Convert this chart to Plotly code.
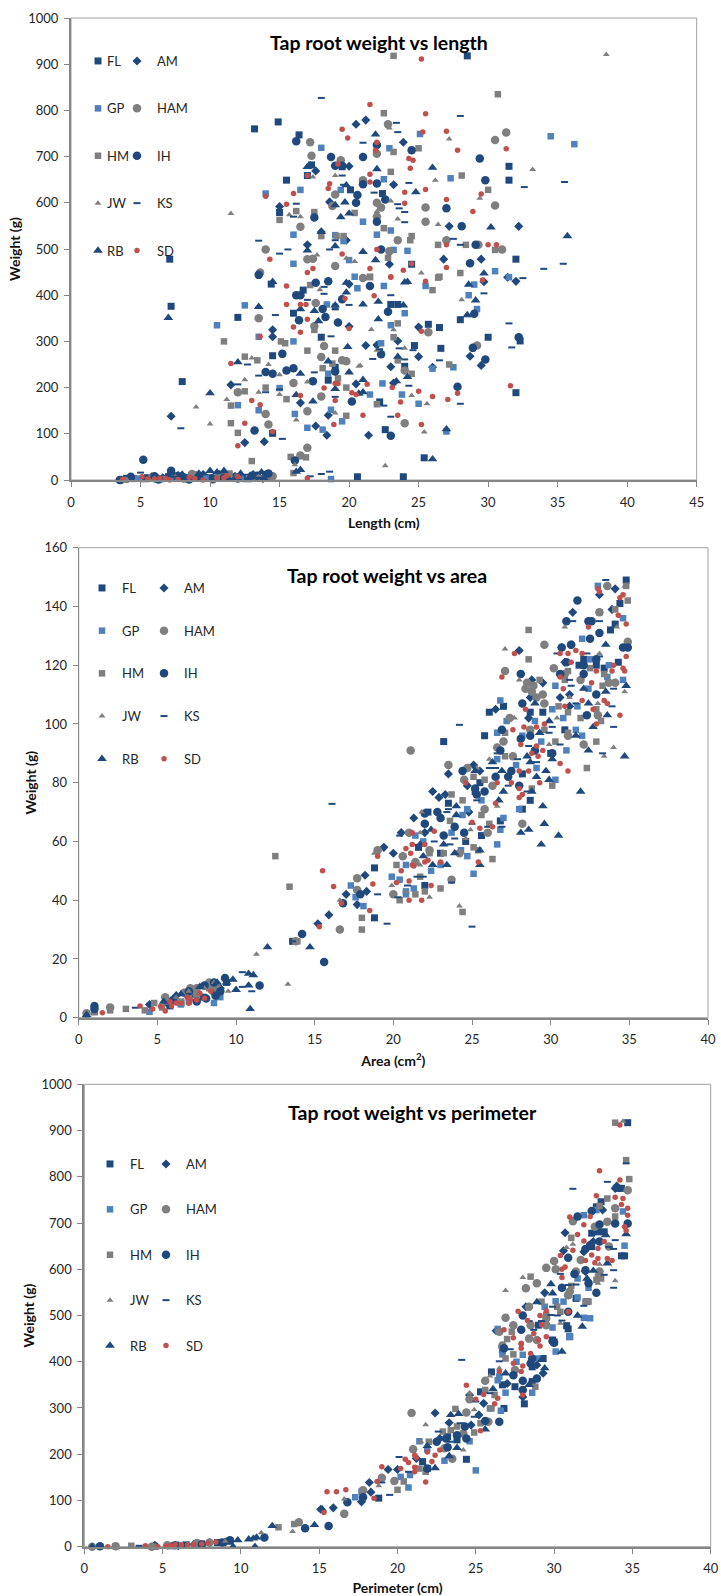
import plotly.graph_objects as go

SERIES = ["FL", "AM", "GP", "HAM", "HM", "IH", "JW", "KS", "RB", "SD"]
FONT = "Lato, Carlito, sans-serif"

# ---------- weight vs length ----------
LEN_FL = [(7.1,478),(7.2,376),(8,213),(12,352),(13.2,760),(14.9,775),(16.4,747),(15.5,649),(15,579),(17,659),(17.3,682),(19.5,678),(20.1,628),(14.5,269),(14.5,101),(14.4,424),(16,361),(16.7,411),(18,309),(18.5,216),(19,244),(20.6,7),(23,380),(23.5,380),(25.7,337),(26.5,330),(28,347),(30,309),(32.3,301),(32,189),(24.7,291),(26.6,285),(24,246),(22.2,169),(22.6,109),(25.4,48),(23.9,7),(28.5,918),(31.5,679),(31.5,649),(32,478),(22.4,620),(24.5,467),(4.5,3),(5.5,5),(6.2,2),(7,7),(7.8,9),(8.5,5),(9.2,7),(10,5),(10.8,8),(11.5,7),(12.5,6),(13.2,8),(14,12),(14.3,8)]
LEN_AM = [(20.5,770),(15,592),(17,509),(18,537),(20,679),(19.8,519),(17.6,669),(18.6,602),(21.2,779),(23.9,731),(23.2,639),(26.8,478),(29.5,478),(27.2,549),(32.2,549),(22.9,467),(7.2,138),(11.5,206),(12.5,81),(13.9,83),(14.5,325),(14.5,310),(16.5,167),(17.6,117),(18.4,97),(18.5,140),(20,332),(20.5,208),(20,424),(21.2,291),(22,292),(23.5,301),(25,331),(25,267),(23,245),(26,244),(28.7,268),(29.5,248),(29.7,429),(32,430),(31.4,439),(21.4,97),(23.2,210),(4.4,5),(5.8,7),(6.6,5),(7.7,10),(8.7,8),(9.5,12),(10.7,12),(11.8,8),(13.1,12),(13.8,3)]
LEN_GP = [(18,719),(19.4,628),(16.5,628),(14,620),(16,531),(16,468),(20,476),(19.6,517),(19,530),(20.4,440),(34.5,744),(36.2,727),(25.1,749),(22.9,718),(27.3,653),(22.5,651),(21,559),(23,540),(22,531),(24.2,496),(23.2,498),(30.5,452),(31.5,439),(10.5,335),(12.5,378),(13.5,310),(16,300),(13.5,151),(12,162),(15,199),(16.1,143),(17,113),(18.1,109),(18.7,152),(19.5,127),(18.7,2),(18.5,230),(18.4,380),(19,375),(20.6,415),(22.5,420),(25.5,420),(29,423),(28.6,400),(29.2,370),(24,361),(23,335),(22.3,296),(27.5,244),(26,241),(22.4,209),(23.8,185),(21.5,185),(25,165),(27,105),(4.8,3),(6.5,2),(7.5,7),(8.5,3),(9.7,3),(11,8),(12.2,5)]
LEN_HAM = [(17.2,731),(17.3,702),(19.4,692),(19,618),(16.5,548),(14,499),(17,478),(17.4,479),(13.6,449),(19,463),(18.8,593),(22.8,770),(31.3,752),(30.5,736),(22,706),(21,649),(25.5,590),(30.5,594),(22.3,590),(22,600),(25.5,559),(23.5,519),(27,519),(29.3,509),(31,499),(22.9,495),(22,570),(13.5,350),(12,190),(14,143),(14.2,120),(17,70),(16.5,53),(16,210),(18,266),(18.2,290),(17.6,383),(17.5,333),(18,181),(17,149),(19.5,259),(19.8,257),(24,237),(25.7,320),(29.2,291),(24,123),(21,437),(3.6,0),(4,2),(6.2,4),(8.7,13),(9,10),(10.2,1),(11.3,8),(12,6),(13.3,5),(14.5,8)]
LEN_HM = [(15,563),(16.2,582),(17.5,580),(18,528),(19.1,528),(19.6,528),(20.4,578),(23.2,918),(30.7,835),(22.5,794),(25,718),(23.2,710),(23,667),(28.1,659),(30,628),(22.5,545),(24.5,528),(24.4,519),(26.4,509),(28.4,509),(30.5,498),(22.8,481),(28,448),(26.4,438),(21.5,439),(11,300),(11.5,161),(11.5,123),(12,102),(12.5,267),(12.5,192),(13,41),(13.4,259),(14,200),(15.1,300),(15.4,296),(15.5,175),(15.8,50),(16,15),(16.9,49),(17,280),(17.2,422),(17.5,325),(18.1,242),(18.8,252),(19,280),(19.2,220),(19.8,200),(19.8,139),(23.5,339),(23.2,309),(23.5,259),(27.2,250),(24.5,230),(22,164),(26,411),(26.5,440),(21.5,440),(5.8,6),(7,3),(8.2,1),(9,6),(10.8,8),(11.4,14),(12.8,4),(14,3)]
LEN_IH = [(16.2,733),(18.7,699),(19,680),(19.5,680),(17.5,568),(20.6,617),(20.5,600),(13.5,444),(24.5,714),(29.4,696),(21,699),(29.8,649),(22,725),(21,640),(22,642),(22.6,607),(27,588),(22,559),(28.1,549),(29.1,509),(22.3,499),(28.7,469),(5.2,44),(13.2,107),(15.2,273),(14,234),(14.5,230),(15.5,237),(16,242),(17.4,214),(19,235),(20.2,170),(16.1,42),(16.4,346),(16.2,400),(16.5,400),(18.1,370),(18.3,353),(18.5,430),(19.2,341),(19.5,391),(17.6,427),(21.5,420),(22.8,364),(29,360),(28.9,286),(22.3,272),(29.8,261),(32.2,309),(27.8,202),(23,96),(3.5,0),(4.3,7),(6,8),(6.3,1),(7.2,20),(7.6,8),(8.1,6),(8.5,1),(9.2,8),(10.2,3),(11,5),(12,3),(13,9),(13.4,9),(14.2,14)]
LEN_JW = [(11.5,577),(17.4,656),(19,659),(15.7,574),(16.5,570),(17.7,487),(19.8,480),(20.4,473),(38.5,921),(22.9,762),(27.2,738),(33.2,672),(26.2,649),(29.4,610),(23,604),(23.5,565),(26.4,553),(22,581),(25.2,448),(9,158),(10,121),(11.2,174),(12.5,217),(13,264),(13.5,190),(14.2,250),(15,185),(15,228),(16.2,130),(16.1,33),(17,212),(19,145),(20.7,246),(17.9,412),(19,370),(21.6,326),(23.2,325),(24,285),(22,281),(24.5,183),(25.6,165),(25.4,104),(28.1,390),(22.6,31),(20.8,248),(4,1),(6,3),(7.5,7),(9,14),(10.5,8),(12.1,6),(13.5,9)]
LEN_KS = [(18,827),(13.5,518),(15,490),(15.6,499),(16.2,598),(16,570),(18.6,499),(19,519),(19.5,659),(19.6,639),(28,788),(23.4,773),(23.5,753),(21,730),(24.3,643),(23.2,640),(32.6,634),(35.5,645),(21.8,622),(23.5,597),(23.6,588),(24,580),(24,558),(27.5,522),(28,509),(34,457),(35.4,468),(32.5,437),(7.9,112),(12,207),(12.7,250),(13.5,226),(14,190),(14.7,357),(15,196),(15.2,89),(17.5,233),(17.2,8),(18,13),(18.6,18),(18.7,311),(18.2,403),(17,390),(19,180),(19,370),(20,379),(18.2,418),(23,400),(22.2,283),(21.7,262),(24,261),(23.6,285),(26.5,259),(29.7,404),(31.5,339),(31.7,287),(24.6,281),(24.3,204),(28,165),(23,137),(22.5,161),(5,16),(4,9),(6.5,4),(7.5,7),(9.5,0),(11.5,2),(13.5,5)]
LEN_RB = [(17.2,682),(17,678),(19.8,638),(19.7,601),(19,595),(19.4,569),(20,577),(18,537),(17,497),(14.5,429),(19,506),(21.9,748),(22,673),(26,676),(24.8,623),(30.2,547),(35.7,528),(21,494),(21.9,476),(29.7,447),(7,351),(10,188),(12,255),(13.5,375),(16.2,184),(16.5,230),(16.5,370),(17.5,366),(17.4,170),(17.8,344),(18.5,257),(19,197),(19.9,288),(20,233),(20.7,187),(16.2,18),(16.5,22),(19.8,427),(19.8,406),(19,378),(21,380),(22.1,386),(22.1,348),(23.9,378),(24,428),(24.2,429),(28.6,423),(29.1,389),(28.5,357),(23.5,267),(21,217),(21,190),(23.4,214),(24.2,223),(27,110),(26,45),(5.3,0),(6.5,1),(7,10),(8,12),(9.2,14),(10,20),(10.5,17),(11,20),(11.3,3),(12.2,14),(12.7,0),(13.7,17),(13.9,3)]
LEN_SD = [(19.5,759),(19.9,740),(19.2,684),(18.6,641),(18.5,631),(17,659),(16,620),(14,614),(15.5,597),(19.5,489),(14.3,478),(17,449),(17.4,458),(25.2,911),(21.5,813),(25.5,793),(25.3,753),(27,755),(27.8,714),(31.3,717),(22,731),(21.9,714),(24.3,696),(24.6,692),(24.4,675),(21.5,662),(21.5,645),(24,623),(25.5,629),(27,607),(24,599),(29.5,619),(28.9,581),(27,509),(30,509),(30.6,509),(22,499),(24.5,468),(27,460),(23.9,454),(21.5,458),(23,439),(11.5,252),(13,172),(13.6,163),(12.5,123),(12,74),(14.5,105),(13.6,310),(15.5,420),(15.5,380),(16,331),(16.5,380),(16.9,380),(17,348),(16.5,320),(16.5,183),(18.2,199),(19,209),(19.2,209),(19,172),(18.9,120),(20,328),(19.7,393),(17,4),(20.2,189),(20.5,185),(21.8,399),(21,140),(23,440),(25.5,430),(29.6,433),(21.3,207),(23.1,200),(25.2,322),(25,192),(26,181),(23.7,169),(27.1,174),(27.8,188),(31.6,204),(23.5,140),(25.2,120),(3.7,1),(5.1,7),(5.5,2),(6,2),(6.4,4),(6.8,3),(7.1,0),(7.7,1),(8.5,6),(8.9,3),(9.5,0),(10.5,4),(11,5),(11.2,9),(12,7)]

# ---------- weight vs area ----------
AREA_FL = [(34.8,149),(34.4,141),(33.8,132),(34.1,134),(31.8,120),(32.9,120),(34.3,121),(33.4,119),(27,106),(26.1,104),(25.8,96),(23.2,94),(28.7,104),(29.5,104),(30.9,98),(30,90),(28.2,83),(25.5,80),(25.2,77),(28.7,74),(23.5,73),(22.2,70),(32.1,122),(18.8,51),(18.8,34),(22,45),(25.6,62),(23,56),(21.6,58),(24.6,60),(28.2,71),(26.8,67),(13.6,26),(5.8,4),(6.5,5),(7.2,8),(7.9,7),(8.6,9),(9.4,12),(1,2)]
AREA_AM = [(34.1,146),(33.1,144),(33.9,139),(31.4,138),(28,125),(30.7,126),(26.5,105),(28.8,115),(29.5,114),(28.7,109),(30.6,109),(31.2,110),(25.1,86),(25.5,84),(23.5,83),(24.7,79),(22.5,77),(22.9,75),(23.3,76),(28.6,102),(30.9,121),(31.2,106),(21.3,68),(20.5,63),(22,63),(19.4,58),(20,56),(18.2,48.5),(18.3,43),(24.8,70),(17,42),(15.9,35),(15.2,32),(17.7,38.5),(4.5,4.5),(5.6,5),(6.2,7.5),(6.8,8),(7.5,10),(8.3,11),(9,10)]
AREA_GP = [(33,147),(34.6,136),(32,129),(26.8,108),(27.2,101),(26.6,97),(28.2,96),(32,96),(31.6,98),(31,91),(29.4,94),(26.6,88),(27.8,86),(29.1,85),(30.3,81),(25.6,74),(28,71),(24.7,71),(34.6,115),(33.7,120),(32.5,122),(32.4,112),(33.6,116),(31.7,106),(30.1,105),(30.8,102),(29,101),(30.3,113),(24.4,69),(23.7,63),(21.9,60),(21.4,62),(27,68),(26.8,64),(26.6,59),(24.7,55),(24.3,57),(22.4,50),(23,52),(20.8,52),(20.4,47),(19.9,48),(20.8,43),(21.3,44),(20.8,42),(25.1,49),(18.1,38),(17.3,45),(17.6,41),(4.5,2),(6.5,4.5),(7,5.5),(8.6,5),(9,7)]
AREA_HAM = [(33.6,147),(33.1,138),(34.9,128),(29.6,127),(31.3,127),(27.1,118),(30.2,119),(30.9,117),(31.9,115),(28.5,114),(28.9,113),(28.4,112),(28.8,111),(29.1,109),(29.5,110),(29.6,107),(34.1,114),(33.7,114),(33,103),(27.4,102),(28.7,98),(31.1,96),(26.6,92),(27,94),(32.1,93),(27.6,89),(23.5,86),(24.7,85),(24.5,81),(26.3,79),(25.8,71),(21.1,91),(21,63),(19,57),(20.6,55),(21.4,53),(22.3,57),(24.2,56),(26,63),(28.2,66),(23.7,47),(20,42),(17.7,47.5),(17.7,43.5),(16.6,30),(13.8,26),(0.5,1.5),(2,3.5),(5.5,7),(6.7,8.5),(7.1,10),(7.5,10),(8.3,12),(8.8,10),(7.5,8)]
AREA_HM = [(34.8,147),(34.9,142),(34.1,139),(33.1,138),(28.6,132),(28.6,122),(32.5,119),(31.1,118),(33.4,117),(33.3,113),(30.9,115),(29.3,115),(30.5,106),(31.1,104),(32.9,105),(31.9,102),(33.2,101),(29.6,98),(28.7,98),(27.1,97),(31.1,97),(30.3,94),(32.9,94),(27.1,89),(25.1,82),(25.8,81),(28.8,78),(30.1,79),(23.7,76),(24.4,74),(32.3,85),(26.1,66),(25.6,69),(23.6,67),(23.2,56),(22.3,56),(20.2,52),(25.1,58),(25.4,57),(26.3,54),(22,43),(21.4,42),(23,44),(20.4,40),(24.4,36),(18,34),(18,30),(21.7,48),(12.5,55),(13.4,44.6),(13.9,26),(0.5,1),(1,2),(2,2.5),(3,3),(4.2,2.5),(4.8,5),(5.3,3.5),(6.5,5.5),(7,7),(8.3,10),(8.5,11)]
AREA_IH = [(31.7,142),(31,135),(32.4,135),(32.6,135),(33.1,131),(34.9,126),(34.6,126),(32.5,129),(31.3,127),(30.7,126),(32.9,122),(31,121),(32.1,120),(30.6,117),(32.1,117),(28.1,117),(28.2,107),(32.9,110),(32.3,103),(26.9,98),(28.7,96),(28.1,95),(30.1,90),(29,91),(26.8,91),(27.5,84),(27.3,82),(24.4,84),(26.5,82),(25.2,78),(25.3,76),(25.8,77),(28,79),(22.8,70),(22,66),(22,69.5),(23,68),(23.9,65),(24.5,63),(23.2,62),(17.9,42),(14.2,28.5),(15.6,19),(16.8,39),(11.5,11),(1,4),(1,3),(6,6),(7.5,5.5),(8.1,6.5),(8.7,7.5),(9,9),(9.3,13.5),(8.6,12),(8,11),(7,9)]
AREA_JW = [(34.7,147),(30.9,133),(34.2,133),(27.1,125.5),(33.1,124),(33,107),(34.7,111),(34,92),(33.4,89),(27.7,102),(29.9,93),(26.1,88),(28,115),(31.2,109),(30.4,102),(21.8,70),(26.6,72),(25.3,85),(24.2,38),(22.3,41),(19.9,45),(20.8,43),(21.7,52),(18.8,56),(24.9,64),(21.7,63),(24.6,61),(11.3,21.6),(13.3,11.4),(16.6,40),(5.5,5),(6.2,7),(7,9),(8,10),(8.6,12),(9.5,9)]
AREA_KS = [(33.5,149),(31.4,135),(33.1,135),(30.4,124),(32.3,124),(33.1,123),(16.1,72.8),(24.2,99.7),(33.9,106),(34,112),(31.2,115),(31.3,113),(34,99),(33.3,90),(30.1,99),(29.9,97),(26.5,85),(26.1,85),(26.6,90),(27.9,88),(28.6,92.5),(30.6,93),(29.1,87),(27.3,79),(28.5,77),(25.3,74),(23.5,71),(31.6,107),(20.4,62),(22.6,60),(23.4,70),(23.9,61),(23.6,59),(21.5,48),(21.9,48),(19,42),(19.6,32),(25,31),(20.3,41),(23.7,46),(26,65),(26.9,65),(25,66),(20.9,45),(3.6,3.4),(10.4,15.5),(11,9),(10.4,10.5),(13.6,26)]
AREA_RB = [(33.5,127),(34.8,113),(33.5,111),(32.1,112),(29,107),(32.4,107),(29.9,101),(33.6,103),(32.7,99),(29.3,97),(31.6,96),(34.7,89),(32.4,91),(26.3,87),(30.1,88),(28.7,87),(28.5,89),(26.9,84),(29.7,84),(29.1,82),(29.9,81),(31.9,77),(27,77),(28.8,77),(29.5,72),(24,72),(25.2,84),(26.7,74),(29.6,66),(28.1,63),(28.6,64),(30.5,62),(29.4,59),(25.5,57),(23.9,56),(25.5,52),(23.4,52),(22.5,52),(21.7,59),(21.9,55),(24,69),(22.4,64),(23.2,59),(12,24),(14.7,24),(10.9,3),(11.1,14.5),(10.8,15),(10.8,11),(0.5,1),(9.8,13),(10,9.5),(9.4,12),(7.7,10.5),(8.8,12),(6.5,8),(5.4,5.5)]
AREA_SD = [(33,146),(33.1,145),(34.6,144),(34.4,143),(34.3,137),(34.8,134),(32.4,133),(27.7,124),(30.6,124),(31.1,124),(31.6,125),(32,124),(31.3,121),(34.6,119),(34.7,118),(34,120),(33.9,118),(32.9,118),(34.8,123),(30.6,116),(26.9,116),(32.6,114),(30.8,112),(32,108),(33.4,108),(33.6,107),(32.7,105),(30.9,106),(28.4,105),(34.4,103),(32.9,100),(29.6,100),(29.1,99),(28.3,99),(27.6,98),(29.1,92.5),(28.1,93),(28.8,90),(29.5,91),(29.2,89),(30.6,86.5),(31.1,84),(28,84),(28.6,84),(29.3,80),(26.6,80),(27.5,80),(28,78),(24.6,80),(28.2,76),(28,75),(26.5,73),(25,66.5),(25.5,64.5),(26.3,65),(22.6,63.5),(21.2,63),(22,59),(21.2,59),(20.8,57.6),(21.1,56),(19,55),(22.2,53.6),(22,53),(23,53),(25.4,53),(21.2,52),(21.3,51.6),(20.5,50),(18.7,45.5),(20.2,46),(21,46.5),(22.4,45),(18.5,36.5),(21,40),(21.8,40),(15.5,50),(16.2,44.7),(15.3,31),(16.7,39),(1.5,1.7),(3.9,4),(4.7,3),(5.2,3.8),(5.5,2.3),(5.8,5.4),(5.9,4),(6.2,5),(6.5,4.9),(7,4.9),(6.9,7),(7.1,6.2),(7.5,6),(7.7,8.3),(8,6.6),(8.4,9)]

# ---------- weight vs perimeter ----------
PERI_FL = [(34.7,917),(34.3,775),(34.1,775),(33,746),(32.7,735),(32.4,678),(33.2,681),(32.8,681),(34.3,629),(34.5,629),(30.8,478),(30.9,471),(31,454),(32.4,649),(26,378),(26.8,299),(28.1,309),(24.4,189),(18.8,105),(25.3,335),(26.7,350),(27.5,346),(28.6,357),(30,443),(29.3,407),(23.8,231),(23.2,238),(21.6,184),(21.9,169),(26.7,425),(28.6,389),(29,479),(29.9,447),(31.4,537),(32.1,530),(4.5,1),(5.5,2),(6.5,4),(7.5,6),(8.5,9),(9.3,12)]
PERI_AM = [(33.9,775),(34,780),(30.7,679),(30.6,640),(29.4,549),(28.2,519),(26.3,467),(32,595),(33.1,728),(32.5,660),(31.9,638),(22.4,289),(23.3,268),(24.7,263),(24.6,328),(25.5,310),(25.2,285),(19.4,167),(20,167),(18.2,139),(18.3,118),(17.7,97),(29.3,375),(28.9,393),(27,353),(28,324),(22.7,234),(21.2,191),(15.1,81),(15.9,84),(4.5,3),(6,2),(7,5),(8,9),(9,10)]
PERI_GP = [(34.5,651),(34.4,725),(32.7,728),(31.9,717),(30.6,530),(30.1,531),(29.4,519),(32.2,560),(31.5,539),(31.9,495),(32.3,494),(31,454),(29.9,474),(26.4,471),(31.5,580),(25,165),(23,186),(21.4,228),(21.9,211),(24.6,228),(20.7,128),(20.2,151),(26.9,333),(28.6,333),(26.6,294),(25.9,299),(26.4,360),(26.5,368),(26.7,416),(29,407),(30.1,422),(28,415),(27.6,400),(20.8,155),(17.3,107),(17.7,119),(6,2),(7.5,4)]
PERI_HAM = [(34.7,771),(33.9,732),(33.4,703),(32.6,692),(31.2,704),(33.5,649),(31.7,620),(30,618),(29.5,603),(30.1,600),(31.4,595),(28.9,570),(28.2,559),(32.9,595),(30.9,544),(31,552),(28.4,519),(26.9,495),(27.4,479),(28.5,479),(26.5,465),(29.5,494),(28.4,450),(26.7,435),(29.5,479),(20.9,289),(25.6,359),(24.6,319),(24.4,290),(26.7,432),(25.8,270),(23.5,190),(21,211),(19,149),(19.8,142),(27.5,382),(24.2,245),(23,213),(28.9,447),(17.8,122),(16.6,71),(13.7,53),(0.5,0),(2,1),(4.3,0),(5.3,3),(7.2,8),(8,9)]
PERI_HM = [(33.9,917),(34.6,836),(34.8,795),(33.9,714),(32.9,737),(33.4,753),(31.1,668),(28.5,584),(32.8,584),(33,580),(32.7,577),(31.1,564),(30.9,544),(32.2,530),(32,530),(30.2,519),(29.2,530),(29.5,501),(27,449),(30.4,508),(27.3,465),(26.9,407),(27.4,416),(25.6,339),(26.2,328),(23.7,298),(25.3,267),(24.9,247),(22.9,249),(23.8,260),(22,227),(23.4,252),(20,123),(20.4,141),(21.4,169),(21.8,162),(26,299),(28.8,346),(2,1),(3,2),(4.4,0),(5.5,3),(12.4,42),(13.4,49)]
PERI_IH = [(34.7,699),(33.9,699),(32.9,697),(32.4,726),(31.5,714),(32.9,660),(32,644),(32.3,652),(30.9,625),(32,598),(31.3,590),(32.2,570),(32.7,549),(30.5,560),(28,500),(27.9,469),(30.9,508),(29.9,445),(26.5,270),(25.6,272),(24.4,234),(24.3,260),(23.2,215),(21.9,169),(26.8,429),(28,359),(28,339),(27.4,371),(28.9,364),(28.5,396),(28.6,407),(30,441),(17.8,107),(22.5,227),(23.1,234),(23.8,241),(1,1),(14.1,40),(15.6,45),(11.5,20),(9.3,14),(16.8,96),(5.8,3),(7.5,5),(8.8,9)]
PERI_JW = [(34.4,920),(28,582),(26.9,554),(33.9,575),(31.2,654),(30.8,647),(32.9,611),(32.8,570),(30.4,483),(21.8,264),(24.2,209),(21.5,227),(18.8,132),(26.5,386),(25.9,369),(24.6,332),(24.9,296),(23.3,198),(11.3,30),(13.3,33),(16.6,103),(7,6),(9,12)]
PERI_KS = [(34.6,829),(33.4,789),(31.2,774),(33.9,663),(33.8,644),(33.5,648),(33.8,598),(33.8,560),(33.2,588),(30.4,590),(31.9,521),(30.9,566),(31.4,567),(29.9,519),(30.2,500),(30.5,489),(28.4,488),(29.2,488),(28.7,469),(29.8,501),(24.1,404),(26.5,401),(27.2,427),(20.1,194),(22.6,249),(19,139),(19.5,112),(24.9,281),(24,267),(23.4,227),(25,314),(25.9,332),(20.7,162),(3.5,2)]
PERI_RB = [(34.6,676),(33.4,613),(33.3,674),(31.8,476),(31.5,500),(29.9,548),(29.8,568),(28.9,529),(32.5,597),(32.1,580),(30.5,422),(29.4,386),(29.2,404),(22.4,170),(23.8,214),(23.4,285),(23.9,287),(25.6,254),(23.3,196),(21.9,218),(26.1,341),(26.9,375),(28.4,350),(0.5,0),(9.5,0),(10.9,0),(12,45),(14.7,47),(15.2,81),(9.8,14),(10.5,16),(11,20),(10.8,18)]
PERI_SD = [(34.2,912),(32.9,813),(34.2,793),(32.7,759),(33.9,756),(34.4,753),(34.3,740),(34.7,732),(34.7,717),(31,713),(31.9,696),(32.3,714),(34.5,692),(34.6,684),(31.5,675),(31.9,661),(33.2,660),(32.8,645),(31.2,641),(30.4,630),(32.4,631),(32.8,623),(33.4,623),(33.7,619),(32.6,614),(32,619),(30.7,605),(30.5,600),(30.5,582),(30.9,508),(29.5,510),(27.7,509),(29.1,500),(28.3,489),(29.2,480),(26.8,469),(28.7,461),(27.4,452),(29.5,454),(29,447),(27.9,440),(24.4,349),(27.9,438),(27.9,429),(29.1,434),(28.5,418),(27.4,397),(28,391),(27.9,379),(26.5,379),(28,328),(26.4,321),(26.2,309),(25.5,329),(25,319),(25.3,251),(22.7,209),(21.9,205),(22.4,198),(22.2,184),(21.1,198),(21.2,193),(20.5,189),(20.7,182),(21.1,172),(21.1,162),(20.2,169),(21.8,140),(19,173),(18.7,141),(18.5,105),(15.5,119),(16.1,119),(16.7,123),(15.3,74),(1.5,0),(3.9,2),(4.7,0),(5.2,1),(5.5,2),(5.8,5),(6.2,4),(6.6,4),(7,5),(7.5,6),(7.9,8),(8.4,10)]

LEN_DATA = [LEN_FL, LEN_AM, LEN_GP, LEN_HAM, LEN_HM, LEN_IH, LEN_JW, LEN_KS, LEN_RB, LEN_SD]
AREA_DATA = [AREA_FL, AREA_AM, AREA_GP, AREA_HAM, AREA_HM, AREA_IH, AREA_JW, AREA_KS, AREA_RB, AREA_SD]
PERI_DATA = [PERI_FL, PERI_AM, PERI_GP, PERI_HAM, PERI_HM, PERI_IH, PERI_JW, PERI_KS, PERI_RB, PERI_SD]

NAVY, BLUE, GREY, RED = "#1F497D", "#4F81BD", "#7F7F7F", "#C0504D"
STYLES = {
    "FL": ("square", 7, NAVY), "AM": ("diamond", 7, NAVY), "GP": ("square", 6.5, BLUE),
    "HAM": ("circle", 8.5, GREY), "HM": ("square", 6.5, GREY), "IH": ("circle", 8.5, NAVY),
    "JW": ("triangle-up", 6, GREY), "KS": ("line-ew", 5, NAVY), "RB": ("triangle-up", 8.5, NAVY),
    "SD": ("circle", 5.5, RED),
}

W, H = 721, 1596
CHARTS = [
    dict(data=LEN_DATA, title="Tap root weight vs length", xt="Length (cm)", xmax=45, ymax=1000, dy=100,
         box=(71, 696.7, 18, 480), xlw=2, ylw=2, title_xy=(379, 43), leg=(77, 46, 127), gap=27.5),
    dict(data=AREA_DATA, title="Tap root weight vs area", xt="Area (cm<sup>2</sup>)", xmax=40, ymax=160, dy=20,
         box=(78.7, 708, 547.7, 1017.7), xlw=2, ylw=1, title_xy=(387, 575), leg=(92, 573, 154), gap=22.8),
    dict(data=PERI_DATA, title="Tap root weight vs perimeter", xt="Perimeter (cm)", xmax=40, ymax=1000, dy=100,
         box=(84.3, 710.7, 1084.3, 1546.7), xlw=2, ylw=2, title_xy=(412, 1112), leg=(100, 1149, 156), gap=25.5),
]

fig = go.Figure()
layout = dict(width=W, height=H, margin=dict(l=0, r=0, t=0, b=0, pad=0), autosize=False,
              paper_bgcolor="white", plot_bgcolor="white", showlegend=True,
              font=dict(family=FONT, size=13, color="#262626"), annotations=[], shapes=[])

for c, ch in enumerate(CHARTS):
    suf = "" if c == 0 else str(c + 1)
    l, r, t, b = ch["box"]
    leg_a = "legend" if c == 0 else f"legend{2 * c + 1}"
    leg_b = f"legend{2 * c + 2}"
    for i, name in enumerate(SERIES):
        sym, size, col = STYLES[name]
        pts = ch["data"][i]
        marker = dict(symbol=sym, size=size, color=col)
        if sym == "line-ew":
            marker["line"] = dict(color=col, width=2)
        fig.add_trace(go.Scatter(
            x=[p[0] for p in pts], y=[p[1] for p in pts], mode="markers", name=name,
            marker=marker, cliponaxis=False, xaxis="x" + suf, yaxis="y" + suf,
            legend=leg_a if i % 2 == 0 else leg_b, legendgroup=f"{c}{name}"))
    layout["xaxis" + suf] = dict(
        domain=[l / W, r / W], anchor="y" + suf, range=[0, ch["xmax"]], dtick=5, tick0=0, showgrid=False, zeroline=False,
        showline=True, linecolor="#868686", linewidth=ch["xlw"], ticks="outside", ticklen=5, tickcolor="#868686",
        ticklabelstandoff=4, tickfont=dict(family=FONT, size=13, color="#262626"), automargin=False,
        title=dict(text=ch["xt"], standoff=10, font=dict(family=FONT, size=14, color="#111111", weight="bold")))
    layout["yaxis" + suf] = dict(
        domain=[1 - b / H, 1 - t / H], anchor="x" + suf, range=[0, ch["ymax"]], dtick=ch["dy"], tick0=0, showgrid=False, zeroline=False,
        showline=True, linecolor="#868686", linewidth=ch["ylw"], ticks="outside", ticklen=5, tickcolor="#868686",
        ticklabelstandoff=3, tickfont=dict(family=FONT, size=13, color="#262626"), automargin=False,
        title=dict(text="Weight (g)", standoff=4, font=dict(family=FONT, size=14, color="#111111", weight="bold")))
    layout["shapes"].append(dict(type="rect", xref="x" + suf + " domain", yref="y" + suf + " domain",
                                 x0=0, x1=1, y0=0, y1=1, line=dict(color="#A0A0A0", width=1), layer="below"))
    tx, ty = ch["title_xy"]
    layout["annotations"].append(dict(text=f"<b>{ch['title']}</b>", xref="paper", yref="paper", x=tx / W, y=1 - ty / H,
                                      xanchor="center", yanchor="middle", showarrow=False,
                                      font=dict(family=FONT, size=19.5, color="#000000")))
    lx1, ly, lx2 = ch["leg"]
    for key, lx in ((leg_a, lx1), (leg_b, lx2)):
        layout[key] = dict(x=lx / W, y=1 - ly / H, xanchor="left", yanchor="top", bgcolor="rgba(0,0,0,0)",
                           borderwidth=0, tracegroupgap=ch["gap"], itemsizing="trace", indentation=-10,
                           font=dict(family=FONT, size=13, color="#262626"))

fig.update_layout(**layout)
POST = ("document.body.style.margin='0';"
        "document.querySelectorAll('.legend .legendsymbols').forEach(function(e){"
        "e.setAttribute('transform',(e.getAttribute('transform')||'')+' translate(11,0)');});")
fig.write_html("out.html", config={"displayModeBar": False}, post_script=POST)
